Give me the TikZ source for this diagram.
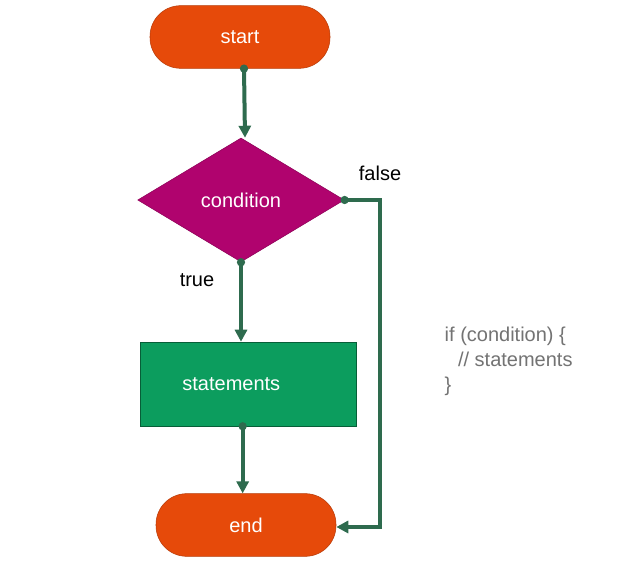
\documentclass[tikz,border=0pt]{standalone}
\usepackage{fontspec}
\setmainfont{Liberation Sans}
\usetikzlibrary{shapes.geometric,arrows.meta}
\definecolor{orng}{HTML}{E64A0A}
\definecolor{mag}{HTML}{B0036E}
\definecolor{grn}{HTML}{0C9D5E}
\definecolor{arr}{HTML}{2E6B4E}
\begin{document}
\begin{tikzpicture}[x=0.75pt,y=-0.75pt,
  term/.style={draw=orng!80!black,fill=orng,rounded corners=23pt,minimum width=135pt,minimum height=47pt,text=white,font=\fontsize{15}{18}\selectfont},
  conn/.style={draw=arr,line width=3pt,-{Triangle[length=9pt,width=9pt]}},
  dot/.style={fill=arr,circle,inner sep=2.2pt}]
\useasboundingbox (0,0) rectangle (625,580);
\fill[white] (0,0) rectangle (625,580);
\node[term] (start) at (240,37) {start};
\node[draw=mag!80!black,fill=mag,diamond,minimum width=155pt,minimum height=93pt,inner sep=0pt,text=white,font=\fontsize{15}{18}\selectfont] (cond) at (241,200) {condition};
\node[draw=grn!60!black,fill=grn,minimum width=162pt,minimum height=63pt,text=white,font=\fontsize{15}{18}\selectfont] (stmt) at (248,384) {\hspace*{-25pt}statements};
\node[term] (end) at (246,525) {end};
\draw[conn] ([xshift=3pt]start.south) -- ([xshift=3pt]cond.north);
\draw[conn] (cond.south) -- (cond.south |- stmt.north);
\draw[conn] ([xshift=-4pt]stmt.south) -- ([xshift=-4pt]stmt.south |- end.north);
\coordinate (c1) at (380,200);
\coordinate (c2) at (380,527);
\draw[conn] (cond.east) -- (c1) -- (c2) -- (end.east |- c2);
\node[dot] at ([xshift=3pt]start.south) {};
\node[dot] at (cond.south) {};
\node[dot] at ([xshift=-4pt]stmt.south) {};
\node[dot] at (cond.east) {};
\node[font=\fontsize{15}{18}\selectfont] (f) at (380,173) {false};
\node[font=\fontsize{15}{18}\selectfont] (t) at (197,280) {true};
\node[text=black!55,font=\fontsize{15}{18}\selectfont,align=left,anchor=north west] (code) at (440,322) {if (condition) \{\\[1pt]\hspace*{10pt}// statements\\[1pt]\}};
\end{tikzpicture}
\end{document}
